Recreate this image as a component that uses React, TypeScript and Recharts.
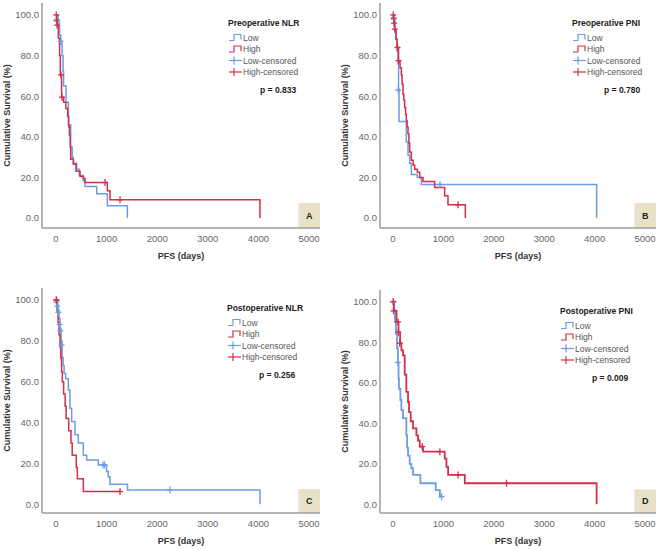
import React from "react";
import {
  ComposedChart,
  Line,
  Scatter,
  XAxis,
  YAxis,
  ReferenceArea,
} from "recharts";

const FONT = '"Liberation Sans", Arial, sans-serif';
const BLUE = "#6c9de3";
const RED = "#d42f4a";
const BOX = "#e8e1c8";

const X_TICKS = [0, 1000, 2000, 3000, 4000, 5000];
const Y_TICKS = [0, 20, 40, 60, 80, 100];
const LEGEND_LABELS = ["Low", "High", "Low-censored", "High-censored"];
const PANEL_TITLES = ["Preoperative NLR", "Preoperative PNI", "Postoperative NLR", "Postoperative PNI"];
const P_VALUES = ["0.833", "0.780", "0.256", "0.009"];
const PANEL_LETTERS = ["A", "B", "C", "D"];

// [days, survival %] — each point is where the curve drops to that value
const aLow = [[0, 100], [40, 96], [70, 90], [95, 86], [120, 80], [140, 72], [150, 65], [198, 57], [244, 46], [290, 35], [320, 30], [343, 27], [409, 24], [461, 21], [540, 18.5], [573, 15.5], [804, 12], [1014, 6], [1410, 0]];
const aHigh = [[0, 100], [15, 97.5], [25, 95], [46, 88.5], [70, 80], [85, 70.5], [110, 59.5], [150, 57], [195, 54], [230, 50], [250, 45], [265, 41], [280, 35], [290, 29], [343, 26.5], [395, 23], [474, 20.5], [540, 19.5], [573, 17.5], [1014, 13.5], [1067, 9], [4030, 0]];
const aLowCens = [[25, 97], [92, 87]];
const aHighCens = [[5, 100], [10, 97.5], [20, 95], [99, 70.5], [118, 59.5], [968, 17.5], [1265, 9]];

const bLow = [[0, 100], [20, 97], [40, 92], [60, 88], [80, 82], [99, 76], [110, 63.5], [119, 47.5], [264, 37.5], [298, 31], [331, 27], [364, 21.5], [480, 20], [562, 16.5], [4040, 0]];
const bHigh = [[0, 100], [10, 98.5], [20, 96], [30, 93], [60, 88], [80, 84], [110, 77.5], [140, 74], [165, 70.5], [180, 66], [198, 61], [215, 58], [231, 54.5], [250, 51], [264, 48], [280, 45], [298, 41.5], [315, 37], [331, 32.5], [364, 28.5], [400, 26], [430, 24], [483, 22.5], [529, 20], [595, 18], [827, 15], [1025, 11], [1091, 6.5], [1435, 0]];
const bLowCens = [[15, 98], [105, 63], [932, 16.5]];
const bHighCens = [[5, 100], [12, 98.5], [22, 96], [35, 93], [90, 84], [110, 77.5], [1290, 6.5]];

const cLow = [[0, 100], [20, 98], [40, 95], [60, 91], [80, 86], [100, 80], [120, 72], [140, 68], [160, 64], [190, 61.5], [243, 56], [276, 47], [309, 40.5], [375, 34], [441, 30], [539, 24], [605, 21.7], [836, 19.2], [1000, 16], [1033, 13.5], [1066, 9.8], [1414, 7], [4030, 0]];
const cHigh = [[0, 100], [20, 94], [40, 89], [60, 83], [80, 77], [95, 71.5], [110, 65], [125, 60], [150, 54], [180, 48], [200, 42], [250, 36], [296, 30], [320, 24], [400, 18], [421, 12.5], [540, 6.2], [1265, 6.2]];
const cLowCens = [[10, 99], [25, 97], [45, 94], [70, 88], [85, 85], [110, 78], [930, 19.2], [960, 19.2], [2250, 7]];
const cHighCens = [[5, 100], [10, 100], [1265, 6.2]];

const dLow = [[0, 100], [20, 96], [40, 90], [60, 84], [80, 77], [99, 70], [110, 62], [119, 57], [146, 51.5], [166, 46.5], [199, 42.5], [265, 34], [280, 28], [298, 24], [331, 20], [364, 17.8], [397, 14.5], [543, 10.4], [848, 7], [930, 3.8], [965, 3.8]];
const dHigh = [[0, 100], [15, 95.5], [70, 90], [110, 85], [140, 79.5], [166, 76], [199, 73.5], [232, 64], [265, 55.5], [298, 50.5], [318, 45.5], [351, 41], [397, 37.5], [464, 34], [497, 31.5], [530, 28.5], [596, 26], [1026, 22.5], [1060, 18.5], [1093, 14.5], [1424, 10.4], [4040, 0]];
const dLowCens = [[5, 100], [95, 70], [965, 3.8]];
const dHighCens = [[5, 100], [10, 95.5], [100, 90], [105, 85], [132, 79.5], [580, 28.5], [930, 26], [1291, 14.5], [2252, 10.4]];

const toPts = (arr: number[][]) => arr.map(([t, s]) => ({ t, s }));

const panels = [
  { left: 0, top: 0, plotLeft: 42, plotRight: 320, plotTop: 3, plotBottom: 228, yDomain: [-4.9, 105.9], xDomain: [-277, 5217], yLabelX: 7, legX: 228, legY: 23, sw: 1.5, series: [aLow, aHigh, aLowCens, aHighCens] },
  { left: 330, top: 0, plotLeft: 50, plotRight: 326, plotTop: 3, plotBottom: 228, yDomain: [-4.9, 105.9], xDomain: [-258, 5218], yLabelX: 15, legX: 242, legY: 23, sw: 1.5, series: [bLow, bHigh, bLowCens, bHighCens] },
  { left: 0, top: 275, plotLeft: 42, plotRight: 320, plotTop: 13, plotBottom: 238, yDomain: [-4.3, 105.9], xDomain: [-277, 5217], yLabelX: 7, legX: 227, legY: 33, sw: 1.5, series: [cLow, cHigh, cLowCens, cHighCens] },
  { left: 330, top: 275, plotLeft: 50, plotRight: 326, plotTop: 15, plotBottom: 238, yDomain: [-4.3, 105.8], xDomain: [-258, 5218], yLabelX: 15, legX: 230, legY: 36, sw: 1.8, series: [dLow, dHigh, dLowCens, dHighCens] },
];

const W = 330;
const H = 275;
const Y_AXIS_W = 40;
const X_AXIS_H = 30;

function censorShape(color: string) {
  return (props: any) => {
    const { cx, cy } = props;
    if (cx == null || cy == null) return <g />;
    return (
      <g stroke={color} strokeWidth={1.3}>
        <line x1={cx - 3} y1={cy} x2={cx + 3} y2={cy} />
        <line x1={cx} y1={cy - 3.5} x2={cx} y2={cy + 3.5} />
      </g>
    );
  };
}

function LegendBox({ x, y, title, p }: { x: number; y: number; title: string; p: string }) {
  const rows = [14.5, 26, 37.5, 49];
  const colors = [BLUE, RED, BLUE, RED];
  return (
    <svg width={W} height={H} style={{ position: "absolute", left: 0, top: 0, pointerEvents: "none" }}>
      <text x={x} y={y} dominantBaseline="central" fontFamily={FONT} fontSize={8.5} fontWeight="bold" fill="#222">
        {title}
      </text>
      {LEGEND_LABELS.map((lab, i) => {
        const ry = y + rows[i];
        const ix = x + 1;
        return (
          <g key={lab}>
            {i < 2 ? (
              <path d={`M${ix},${ry + 3} H${ix + 5} V${ry - 3} H${ix + 12} V${ry + 2}`} fill="none" stroke={colors[i]} strokeWidth={1.2} />
            ) : (
              <g stroke={colors[i]} strokeWidth={1.2}>
                <line x1={ix} y1={ry} x2={ix + 13} y2={ry} />
                <line x1={ix + 5} y1={ry - 4} x2={ix + 5} y2={ry + 4} />
              </g>
            )}
            <text x={ix + 14} y={ry} dominantBaseline="central" fontFamily={FONT} fontSize={8.5} fill="#555">
              {lab}
            </text>
          </g>
        );
      })}
      <text x={x + 32} y={y + 67} dominantBaseline="central" fontFamily={FONT} fontSize={8.5} fontWeight="bold" fill="#222">
        {`p = ${p}`}
      </text>
    </svg>
  );
}

function Panel({ cfg, idx }: { cfg: (typeof panels)[number]; idx: number }) {
  const [low, high, lowC, highC] = cfg.series;
  const margin = {
    top: cfg.plotTop,
    right: W - cfg.plotRight,
    left: cfg.plotLeft - Y_AXIS_W,
    bottom: H - cfg.plotBottom - X_AXIS_H,
  };
  const plotMidY = (cfg.plotTop + cfg.plotBottom) / 2;
  const plotMidX = (cfg.plotLeft + cfg.plotRight) / 2;
  const tickStyle = { fontSize: 9.5, fill: "#666", fontFamily: FONT };
  return (
    <div style={{ position: "absolute", left: cfg.left, top: cfg.top, width: W, height: H }}>
      <ComposedChart width={W} height={H} margin={margin}>
        <XAxis
          type="number"
          dataKey="t"
          domain={cfg.xDomain}
          ticks={X_TICKS}
          allowDataOverflow
          height={X_AXIS_H}
          tickLine={false}
          tickSize={4}
          tickMargin={3}
          tick={tickStyle}
          axisLine={{ stroke: "#9c9c9c", strokeWidth: 1.5 }}
          label={() => (
            <text x={plotMidX} y={cfg.plotBottom + 28} textAnchor="middle" dominantBaseline="central" fontFamily={FONT} fontSize={9} fontWeight="bold" fill="#333">
              PFS (days)
            </text>
          )}
        />
        <YAxis
          type="number"
          dataKey="s"
          domain={cfg.yDomain}
          ticks={Y_TICKS}
          allowDataOverflow
          width={Y_AXIS_W}
          tickLine={false}
          tickSize={2}
          tickMargin={1}
          tick={tickStyle}
          tickFormatter={(v: number) => v.toFixed(1)}
          axisLine={{ stroke: "#9c9c9c", strokeWidth: 1.5 }}
          label={() => (
            <text
              x={cfg.yLabelX}
              y={plotMidY}
              transform={`rotate(-90 ${cfg.yLabelX} ${plotMidY})`}
              textAnchor="middle"
              dominantBaseline="central"
              fontFamily={FONT}
              fontSize={9}
              fontWeight="bold"
              fill="#333"
            >
              Cumulative Survival (%)
            </text>
          )}
        />
        <ReferenceArea
          x1={4790}
          x2={cfg.xDomain[1]}
          y1={cfg.yDomain[0]}
          y2={7.4}
          fill={BOX}
          fillOpacity={1}
          stroke="none"
          label={{ value: PANEL_LETTERS[idx], position: "center", fontSize: 9, fontWeight: "bold", fill: "#222", fontFamily: FONT }}
        />
        <Line data={toPts(low)} dataKey="s" type="stepAfter" stroke={BLUE} strokeWidth={cfg.sw} dot={false} activeDot={false} isAnimationActive={false} />
        <Line data={toPts(high)} dataKey="s" type="stepAfter" stroke={RED} strokeWidth={cfg.sw} dot={false} activeDot={false} isAnimationActive={false} />
        <Scatter data={toPts(lowC)} dataKey="s" shape={censorShape(BLUE)} isAnimationActive={false} />
        <Scatter data={toPts(highC)} dataKey="s" shape={censorShape(RED)} isAnimationActive={false} />
      </ComposedChart>
      <LegendBox x={cfg.legX} y={cfg.legY} title={PANEL_TITLES[idx]} p={P_VALUES[idx]} />
    </div>
  );
}

export default function App() {
  return (
    <div style={{ position: "absolute", left: 0, top: 0, width: 660, height: 550, background: "#fff", fontFamily: FONT }}>
      {panels.map((cfg, i) => (
        <Panel key={i} cfg={cfg} idx={i} />
      ))}
    </div>
  );
}
